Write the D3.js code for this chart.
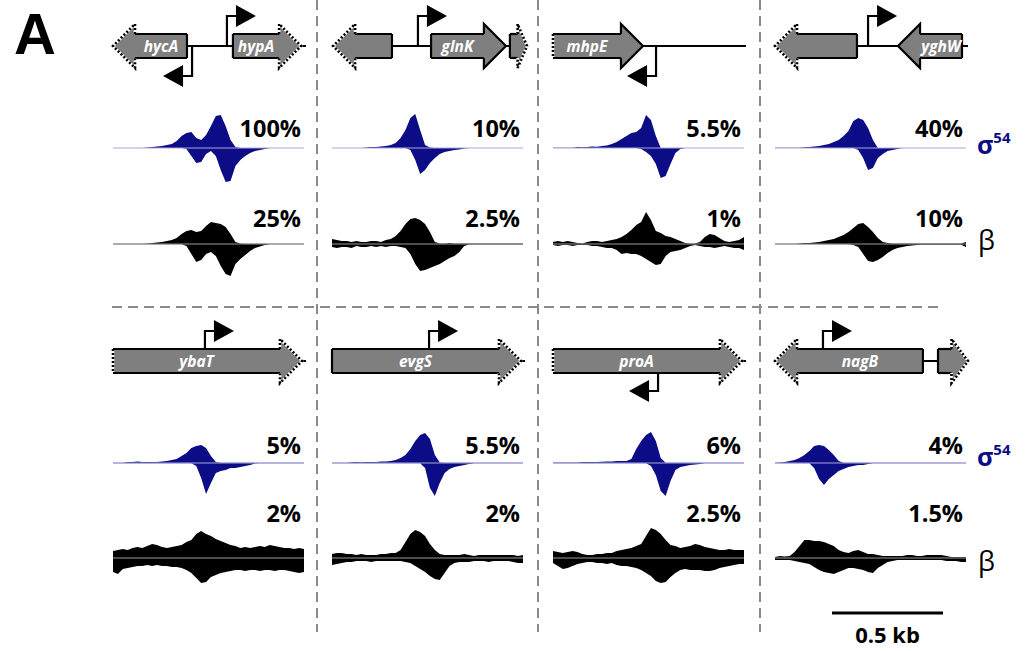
<!DOCTYPE html>
<html><head><meta charset="utf-8">
<script src="https://cdn.jsdelivr.net/npm/d3@7"></script>
<style>body{margin:0;background:#fff}svg{display:block}</style>
</head><body>
<svg id="c" width="1034" height="651"></svg>
<script>
// ---------------- DATA ----------------
const panelNames = ["hycA","glnK","mhpE","yghW","ybaT","evgS","proA","nagB"];
const sigmaLabels = ["100%","10%","5.5%","40%","5%","5.5%","6%","4%"];
const betaLabels  = ["25%","2.5%","1%","10%","2%","2%","2.5%","1.5%"];
const windowBp = 860;      // genomic window shown in each panel (bp)
const scaleBarBp = 500;

// sigma54 ChIP signal (upper = forward strand, lower = reverse strand), 40 bins each
const hycA_sigmaUp   = [0,0,0,0,0,0,0,0.5,1,1.5,2,3,4,7,12,15,16,10,8,13,22,32,33,22,8,1,0,0,0,0,0,0,0,0,0,0,0,0,0,0];
const hycA_sigmaDown = [0,0,0,0,0,0,0,0,0,0,0,0,0,0,0,1,8,15,14,6,3,8,22,34,33,18,12,8,5,3,2,1,0,0,0,0,0,0,0,0];
const glnK_sigmaUp   = [0,0,0,0,0,0,0,0.5,1,1,1.5,2,3,5,10,18,30,34,18,3,0.5,0,0,0,0,0,0,0,0,0,0,0,0,0,0,0,0,0,0,0];
const glnK_sigmaDown = [0,0,0,0,0,0,0,0,0,0,0,0,0,0,0,0,2,12,26,22,15,10,6,4,3,2,1.5,0.5,0,0,0,0,0,0,0,0,0,0,0,0];
const mhpE_sigmaUp   = [0.3,0.3,0.3,0.3,0.3,1,0.8,1,1.5,1.2,2,2.5,4,6,9,12,15,16,20,33,28,12,0,0,0,0,0,0,0,0,0,0,0,0,0,0,0,0,0,0];
const mhpE_sigmaDown = [0,0,0,0,0,0,0,0,0,0,0,0,0,0,0,0,0,0,1,4,8,16,30,28,16,5,1,0,0,0,0,0,0,0,0,0,0,0,0,0];
const yghW_sigmaUp   = [0.3,0.3,0.3,0.3,0.3,0.3,0.8,1,1.5,2,3,4,6,8,12,17,27,30,28,20,8,0,0,0,0,0,0,0,0,0,0,0,0,0,0,0,0,0,0,0];
const yghW_sigmaDown = [0,0,0,0,0,0,0,0,0,0,0,0,0,0,0,0,0,2,10,22,20,10,6,3,2,1,0,0,0,0,0,0,0,0,0,0,0,0,0,0];
const ybaT_sigmaUp   = [0.3,0.3,0.3,1,1,1.5,1,1,1,1,1.5,2,3,4,7,10,15,17,18,15,7,1,0.3,0.3,0.3,0.3,0.3,0.3,0.3,0.3,0.3,0.3,0.3,0.3,0.3,0.3,0.3,0.3,0.3,0.3];
const ybaT_sigmaDown = [0.3,0.3,0.3,0.3,0.3,0.3,0.3,0.3,0.3,0.3,0.3,0.3,0.3,0.3,0.3,0.3,0.3,3,15,31,20,10,8,7,5,5,4,3,2,0.5,0.3,0.3,0.3,0.3,0.3,0.3,0.3,0.3,0.3,0.3];
const evgS_sigmaUp   = [0.3,0.3,0.3,0.3,0.8,1,0.8,1,1,1,1.5,1.5,2,3,5,8,14,22,28,30,24,8,0.5,0.3,0.3,0.3,0.3,0.3,0.3,0.3,0.3,0.3,0.3,0.3,0.3,0.3,0.3,0.3,0.3,0.3];
const evgS_sigmaDown = [0.3,0.3,0.3,0.3,0.3,0.3,0.3,0.3,0.3,0.3,0.3,0.3,0.3,0.3,0.3,0.3,0.3,0.3,0.3,5,25,33,20,10,6,4,3,2,1,0.3,0.3,0.3,0.3,0.3,0.3,0.3,0.3,0.3,0.3,0.3];
const proA_sigmaUp   = [0.5,0.5,0.5,0.5,0.5,0.5,1,1,1,1,1.2,1.5,1.5,2,2,2,4,14,22,28,31,22,5,0.3,0.3,0.3,0.3,0.3,0.3,0.3,0.3,0.3,0.3,0.3,0.3,0.3,0.3,0.3,0.3,0.3];
const proA_sigmaDown = [0.3,0.3,0.3,0.3,0.3,0.3,0.3,0.3,0.3,0.3,0.3,0.3,0.3,0.3,0.3,0.3,0.3,0.3,0.3,0.3,3,12,28,33,18,7,4,3,2,1.5,1,0.3,0.3,0.3,0.3,0.3,0.3,0.3,0.3,0.3];
const nagB_sigmaUp   = [0.3,0.5,1,2,3,5,8,12,17,18,17,13,8,2,0.3,0.3,0.3,0.3,0.3,0.3,0.3,0.3,0.3,0.3,0.3,0.3,0.3,0.3,0.3,0.3,0.3,0.3,0.3,0.3,0.3,0.3,0.3,0.3,0.3,0.3];
const nagB_sigmaDown = [0.3,0.3,0.3,0.3,0.3,0.3,0.3,0.3,5,16,22,16,12,8,6,4,3,2,2,1,0.3,0.3,0.3,0.3,0.3,0.3,0.3,0.3,0.3,0.3,0.3,0.3,0.3,0.3,0.3,0.3,0.3,0.3,0.3,0.3];

// beta (RNA polymerase) ChIP signal
const hycA_betaUp   = [0.3,0.3,0.3,0.3,0.3,0.3,0.3,0.5,1,1.5,2,3,4,6,10,13,14,12,13,18,22,21,20,17,10,2,0.5,0.3,0.3,0.3,0.3,0.3,0.3,0.3,0.3,0.3,0.3,0.3,0.3,0.3];
const hycA_betaDown = [0.3,0.3,0.3,0.3,0.3,0.3,0.3,0.3,0.3,0.3,0.3,0.3,0.3,0.3,0.3,2,10,18,16,10,8,12,22,30,32,20,15,11,7,4,2.5,1,0.3,0.3,0.3,0.3,0.3,0.3,0.3,0.3];
const glnK_betaUp   = [5,4,3,3,2,3,2,2,3,3,2,4,5,8,13,20,25,26,24,20,12,2,0.5,0.5,1,0.5,0.5,0.5,0.5,0.5,0.5,0.5,0.5,0.5,0.5,0.5,0.5,0.5,0.5,0.5];
const glnK_betaDown = [3,4,3,3,4,2,3,3,2,3,2,3,2,2,3,4,10,20,27,26,24,22,20,17,14,12,8,2,0.5,0.5,0.5,0.5,0.5,0.5,0.5,0.5,0.5,0.5,0.5,0.5];
const mhpE_betaUp   = [2,3,2,3,2,1,0.5,2,3,3,2,3,4,5,7,10,14,19,22,32,24,13,11,8,7,5,3,1,0.5,0.5,2,7,10,9,6,3,2,3,4,7];
const mhpE_betaDown = [1,2,1,1,2,1,1,1,2,2,3,4,4,6,10,9,10,10,12,15,18,21,20,12,8,7,6,4,2,1,2,3,3,4,3,2,3,4,4,6];
const yghW_betaUp   = [0.3,0.3,0.3,0.3,0.3,0.5,1,1,1.5,2,3,4,5,7,9,12,16,20,21,17,12,6,2,1,0.5,0.5,0.5,0.5,0.5,0.5,0.5,0.5,0.5,0.5,0.5,0.5,0.5,0.5,0.5,2];
const yghW_betaDown = [0.3,0.3,0.3,0.3,0.3,0.3,0.3,0.3,0.3,0.3,0.3,0.3,0.3,0.3,0.3,0.3,1,3,10,17,18,16,13,9,6,4,3,2,1.5,1,0.8,0.8,0.8,0.8,0.8,0.8,0.8,0.8,0.8,3];
const ybaT_betaUp   = [7,8,9,8,10,11,10,12,14,13,11,10,11,12,13,16,18,24,27,24,22,19,17,15,13,12,10,11,10,11,12,11,13,12,11,10,10,9,10,9];
const ybaT_betaDown = [14,16,11,10,9,8,8,7,8,7,8,8,9,9,10,12,15,20,25,24,19,17,15,14,13,12,12,13,12,12,13,12,12,13,12,12,13,14,15,14];
const evgS_betaUp   = [4,5,5,4,4,3,4,3,3,3,4,4,5,5,8,16,24,28,26,22,14,8,4,3,3,3,3,4,3,2,3,3,3,3,3,3,3,3,2,3];
const evgS_betaDown = [7,6,5,4,4,3,3,3,4,3,3,3,3,3,3,4,5,8,11,14,18,21,22,15,8,5,4,4,4,3,3,3,4,3,3,3,3,4,5,5];
const proA_betaUp   = [7,6,5,6,7,6,4,3,3,4,4,5,5,7,8,9,10,12,14,22,30,28,24,18,13,12,10,11,12,14,13,11,10,9,8,8,9,8,8,8];
const proA_betaDown = [5,8,11,10,8,6,5,4,4,5,5,6,5,7,8,8,9,10,12,15,18,23,25,24,19,15,12,11,12,12,12,13,13,12,10,9,8,7,6,6];
const nagB_betaUp   = [1,2,1.5,2,6,12,18,18,17,17,16,14,12,8,6,5,7,8,6,4,4,3,2,2,2,2,2,3,3,2,2,3,3,3,3,2,1,1,1,1];
const nagB_betaDown = [2,2,2,2,3,4,5,6,9,12,14,15,16,14,12,10,10,11,12,14,15,10,7,4,3,2,2,2,2,2,2,2,2,2,2,3,3,3,4,4];

// gene annotations, coordinates in bp within each window
const hycA_genes = [{start:0,end:333,strand:-1,label:"hycA",dotHead:true,dotTail:false},
                    {start:540,end:847,strand:1,label:"hypA",dotHead:true,dotTail:false}];
const glnK_genes = [{start:5,end:270,strand:-1,label:"",dotHead:true,dotTail:false},
                    {start:446,end:783,strand:1,label:"glnK",dotHead:false,dotTail:false},
                    {start:801,end:878,strand:1,label:"",dotHead:true,dotTail:false}];
const mhpE_genes = [{start:0,end:405,strand:1,label:"mhpE",dotHead:false,dotTail:true}];
const yghW_genes = [{start:0,end:369,strand:-1,label:"",dotHead:true,dotTail:false},
                    {start:554,end:842,strand:-1,label:"yghW",dotHead:false,dotTail:false}];
const ybaT_genes = [{start:0,end:851,strand:1,label:"ybaT",dotHead:true,dotTail:true}];
const evgS_genes = [{start:0,end:851,strand:1,label:"evgS",dotHead:true,dotTail:false}];
const proA_genes = [{start:0,end:851,strand:1,label:"proA",dotHead:true,dotTail:true}];
const nagB_genes = [{start:0,end:666,strand:-1,label:"nagB",dotHead:true,dotTail:false},
                    {start:734,end:869,strand:1,label:"",dotHead:true,dotTail:false}];

// transcription start sites (bp, direction)
const hycA_tss = [{pos:513,dir:1},{pos:356,dir:-1}];
const glnK_tss = [{pos:387,dir:1}];
const mhpE_tss = [{pos:464,dir:-1}];
const yghW_tss = [{pos:419,dir:1}];
const ybaT_tss = [{pos:414,dir:1}];
const evgS_tss = [{pos:437,dir:1}];
const proA_tss = [{pos:473,dir:-1}];
const nagB_tss = [{pos:216,dir:1}];

const panels = [
  {sUp:hycA_sigmaUp,sDn:hycA_sigmaDown,bUp:hycA_betaUp,bDn:hycA_betaDown,genes:hycA_genes,tss:hycA_tss},
  {sUp:glnK_sigmaUp,sDn:glnK_sigmaDown,bUp:glnK_betaUp,bDn:glnK_betaDown,genes:glnK_genes,tss:glnK_tss},
  {sUp:mhpE_sigmaUp,sDn:mhpE_sigmaDown,bUp:mhpE_betaUp,bDn:mhpE_betaDown,genes:mhpE_genes,tss:mhpE_tss},
  {sUp:yghW_sigmaUp,sDn:yghW_sigmaDown,bUp:yghW_betaUp,bDn:yghW_betaDown,genes:yghW_genes,tss:yghW_tss},
  {sUp:ybaT_sigmaUp,sDn:ybaT_sigmaDown,bUp:ybaT_betaUp,bDn:ybaT_betaDown,genes:ybaT_genes,tss:ybaT_tss},
  {sUp:evgS_sigmaUp,sDn:evgS_sigmaDown,bUp:evgS_betaUp,bDn:evgS_betaDown,genes:evgS_genes,tss:evgS_tss},
  {sUp:proA_sigmaUp,sDn:proA_sigmaDown,bUp:proA_betaUp,bDn:proA_betaDown,genes:proA_genes,tss:proA_tss},
  {sUp:nagB_sigmaUp,sDn:nagB_sigmaDown,bUp:nagB_betaUp,bDn:nagB_betaDown,genes:nagB_genes,tss:nagB_tss}
];

// ---------------- LAYOUT ----------------
const svg = d3.select("#c");
const NAVY = "#0c0c86";
const FONT = "'Open Sans', 'Noto Sans', sans-serif";
const colX = [113, 332, 553, 775];
const PW = 191;
const rows = [
  {geneY:46,  sigBase:148, betaBase:244, sigLab:137, betaLab:227, sideSig:154, sideBeta:250},
  {geneY:361, sigBase:463, betaBase:558, sigLab:454, betaLab:522, sideSig:466, sideBeta:571}
];
const hScale = d3.scaleLinear().domain([0, 40]).range([0, 40]);

// separators
const sepG = svg.append("g").attr("stroke","#8a8a8a").attr("stroke-width",2).attr("stroke-dasharray","10,6");
[317, 538, 760].forEach(x => sepG.append("line").attr("x1",x).attr("x2",x).attr("y1",0).attr("y2",632));
sepG.append("line").attr("x1",112).attr("x2",940).attr("y1",307).attr("y2",307);

// panel letter
svg.append("text").attr("x",14).attr("y",54).attr("font-family","'Liberation Sans', Arial, sans-serif")
  .attr("font-weight",700).attr("font-size",58).text("A");

function drawTrack(g, up, dn, xs, base, color, curve, baseColor) {
  const ix = d3.scaleLinear().domain([0, up.length - 1]).range(xs.range());
  const aUp = d3.area().x((d,i)=>ix(i)).y0(base).y1(d=>base - hScale(d)).curve(curve);
  const aDn = d3.area().x((d,i)=>ix(i)).y0(base).y1(d=>base + hScale(d)).curve(curve);
  g.append("path").attr("d", aUp(up)).attr("fill", color);
  g.append("path").attr("d", aDn(dn)).attr("fill", color);
  g.append("line").attr("x1", xs.range()[0]).attr("x2", xs.range()[1]).attr("y1", base).attr("y2", base)
    .attr("stroke", baseColor).attr("stroke-width", 1.2);
}

function seg(g, pts, dotted) {
  const line = d3.line();
  if (dotted) {
    g.append("path").attr("d", line(pts)).attr("fill","none").attr("stroke","#fff").attr("stroke-width",2.6);
    g.append("path").attr("d", line(pts)).attr("fill","none").attr("stroke","#000").attr("stroke-width",2.6)
      .attr("stroke-dasharray","2,2");
  } else {
    g.append("path").attr("d", line(pts)).attr("fill","none").attr("stroke","#000").attr("stroke-width",2.2)
      .attr("stroke-linejoin","miter");
  }
}

function drawGene(g, gene, xs, cy) {
  const bh = 12, hh = 22;
  const a = xs(gene.start), b = xs(gene.end);
  const hl = Math.min(22, 0.55 * (b - a));
  let tailX, tipX, baseX;
  if (gene.strand > 0) { tailX = a; tipX = b; baseX = b - hl; }
  else { tailX = b; tipX = a; baseX = a + hl; }
  const poly = [[tailX,cy-bh],[baseX,cy-bh],[baseX,cy-hh],[tipX,cy],[baseX,cy+hh],[baseX,cy+bh],[tailX,cy+bh]];
  g.append("path").attr("d", d3.line()(poly) + "Z").attr("fill", "#7f7f7f");
  seg(g, [[tailX,cy-bh],[tailX,cy+bh]], gene.dotTail);
  seg(g, [[tailX,cy-bh],[baseX,cy-bh]], false);
  seg(g, [[tailX,cy+bh],[baseX,cy+bh]], false);
  seg(g, [[baseX,cy-bh],[baseX,cy-hh],[tipX,cy],[baseX,cy+hh],[baseX,cy+bh]], gene.dotHead);
  if (gene.label) {
    g.append("text").attr("x", (tailX + baseX) / 2).attr("y", cy + 5.5)
      .attr("text-anchor","middle").attr("fill","#fff").attr("font-family",FONT)
      .attr("font-weight",700).attr("font-style","italic").attr("font-size",15.5).text(gene.label);
  }
}

function drawTss(g, t, xs, cy) {
  const x = xs(t.pos), d = t.dir;
  const y = cy - 30 * d;
  g.append("path").attr("d", `M${x},${cy}V${y}H${x + 9*d}`).attr("fill","none")
    .attr("stroke","#000").attr("stroke-width",2.2);
  g.append("path").attr("d", `M${x+9*d},${y-11}L${x+29*d},${y}L${x+9*d},${y+11}Z`).attr("fill","#000");
}

panels.forEach((p, k) => {
  const r = rows[Math.floor(k / 4)], c = k % 4;
  const xs = d3.scaleLinear().domain([0, windowBp]).range([colX[c], colX[c] + PW]);
  const g = svg.append("g");
  // DNA line
  g.append("line").attr("x1", xs(0)).attr("x2", xs(windowBp) + 2).attr("y1", r.geneY).attr("y2", r.geneY)
    .attr("stroke","#000").attr("stroke-width",2.2);
  p.tss.forEach(t => drawTss(g, t, xs, r.geneY));
  p.genes.forEach(gn => drawGene(g, gn, xs, r.geneY));
  drawTrack(g, p.sUp, p.sDn, xs, r.sigBase, NAVY, d3.curveLinear, "#a7a7dc");
  drawTrack(g, p.bUp, p.bDn, xs, r.betaBase, "#000", d3.curveLinear, "#9a9a9a");
  g.append("text").attr("x", colX[c] + 188).attr("y", r.sigLab).attr("text-anchor","end")
    .attr("font-family",FONT).attr("font-weight",700).attr("font-size",23.5).text(sigmaLabels[k]);
  g.append("text").attr("x", colX[c] + 188).attr("y", r.betaLab).attr("text-anchor","end")
    .attr("font-family",FONT).attr("font-weight",700).attr("font-size",23.5).text(betaLabels[k]);
});

// side labels
rows.forEach(r => {
  const t = svg.append("text").attr("x",977).attr("y",r.sideSig).attr("fill",NAVY)
    .attr("font-family",FONT).attr("font-weight",700);
  t.append("tspan").attr("font-size",25).text("σ");
  t.append("tspan").attr("font-size",15).attr("dy",-11).text("54");
  svg.append("text").attr("x",978).attr("y",r.sideBeta).attr("font-family",FONT)
    .attr("font-size",27).text("β");
});

// scale bar (0.5 kb in panel scale)
const sb = d3.scaleLinear().domain([0, windowBp]).range([colX[3], colX[3] + PW]);
svg.append("line").attr("x1", 832).attr("x2", 832 + sb(scaleBarBp) - sb(0)).attr("y1",613).attr("y2",613)
  .attr("stroke","#000").attr("stroke-width",3);
svg.append("text").attr("x", 832 + (sb(scaleBarBp) - sb(0)) / 2).attr("y",643).attr("text-anchor","middle")
  .attr("font-family",FONT).attr("font-weight",700).attr("font-size",22).text("0.5 kb");
</script>
</body></html>
